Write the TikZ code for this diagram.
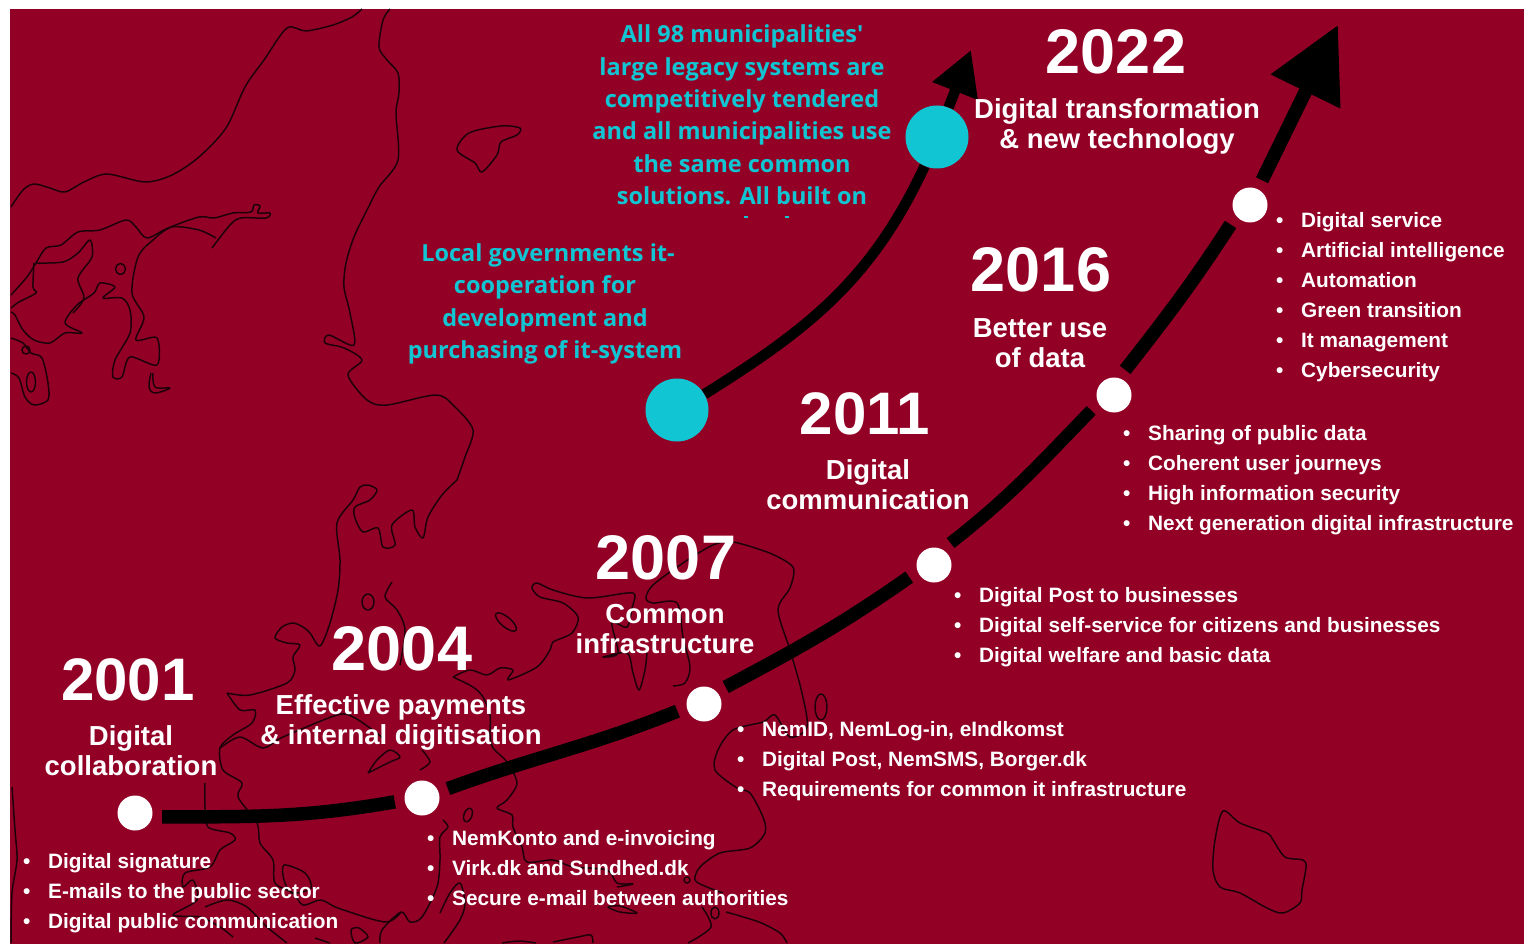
\documentclass[tikz,border=0pt]{standalone}
\usepackage{fontspec}
\setmainfont{Liberation Sans}
\newfontfamily\cyanfont{Open Sans}
\usepackage{xcolor}
\definecolor{MapRed}{RGB}{146,0,38}
\definecolor{MapCyan}{RGB}{18,197,210}
\definecolor{MapShore}{RGB}{30,0,10}
\usetikzlibrary{arrows.meta}
\tikzset{%
  coast/.style={line width=1.5pt, color=MapShore, line join=round},
  dotnode/.style={circle, fill=white, minimum size=35pt, inner sep=0pt, outer sep=10pt},
  localdot/.style={circle, fill=MapCyan, minimum size=63pt, inner sep=0pt},
  mainline/.style={line width=13.5pt, color=black},
  localline/.style={line width=10.5pt, color=black},
  yearlabel/.style={text=white, font=\bfseries\fontsize{#1}{63}\selectfont},
  topiclabel/.style={text=white, align=center, font=\bfseries\fontsize{27.5}{30}\selectfont},
  itemlist/.style={text=white, align=left, anchor=west, inner sep=0pt, font=\bfseries\fontsize{20.8}{30}\selectfont},
  cyanlabel/.style={text=MapCyan, align=center, font=\cyanfont\bfseries\fontsize{23.5}{32.4}\selectfont}
}
\newcommand{\Bul}[1]{\makebox[25pt][l]{\textbullet}#1}

\begin{document}
\begin{tikzpicture}[x=1pt,y=-1pt]
  \useasboundingbox (0,0) rectangle (1524,944);
  \fill[white] (0,0) rectangle (1524,944);
  \fill[MapRed] (10,9) rectangle (1524,944);
  % Coast, north:
  \draw[coast] plot[smooth,tension=.5] coordinates {(11,207) (23,190) (34,184) (50,188) (65,192) (84,182) (107,174) (145,182) (172,175) (199,157) (226,128) (245,87) (264,60) (287,28) (306,31) (333,25) (352,17) (362,9)};
  \draw[coast] plot[smooth,tension=.5] coordinates {(390,9) (383,20) (379,47) (387,60) (398,73) (399,93) (396,113) (398,160) (379,187) (367,210) (354,237) (346,263) (344,287) (350,313) (354,345) (329,335) (325,343) (344,348) (362,360) (348,375) (367,400) (387,405) (436,395) (455,407) (473,430) (465,457) (457,480)};
  \draw[coast] plot[smooth cycle,tension=.5] coordinates {(457,150) (469,133) (501,126) (520,128) (517,135) (501,142) (497,155) (482,172) (475,163)};
  \draw[coast] plot[smooth,tension=.5] coordinates {(11,295) (27,277) (36,263) (46,248) (61,245) (78,232) (100,230) (126,220) (136,227) (147,238) (168,228) (199,217) (214,218) (233,213) (251,212) (254,205) (260,206) (258,213) (270,213) (266,218) (241,218) (230,225) (212,248)};
  \draw[coast] plot[smooth,tension=.5] coordinates {(216,238) (199,230) (172,227) (153,240) (138,257) (132,293) (144,317) (136,340) (157,338) (157,365) (130,357) (122,377) (113,377) (115,360) (130,333) (130,310) (122,298) (103,298) (115,287) (100,283) (94,293) (77,305) (65,323) (82,333) (65,333) (50,343) (34,340) (23,330) (15,315) (11,312)};
  \draw[coast] plot[smooth,tension=.5] coordinates {(36,263) (63,262) (78,253) (90,240) (92,257) (78,278) (84,298) (73,313)};
  \draw[coast] plot[smooth,tension=.5] coordinates {(34,263) (33,287) (36,293) (19,302) (11,308)};
  \draw[coast] plot[smooth,tension=.5] coordinates {(11,338) (23,343) (31,353) (42,358) (48,383) (48,400) (34,405) (25,397) (19,378) (11,373)};
  \draw[coast] plot[smooth,tension=.6] coordinates {(151,373) (149,387) (155,393) (170,388) (155,387) (153,373)};
  \draw[coast] (120.5,269) circle[x radius=5,y radius=5.5];
  \draw[coast] (31,382) circle[x radius=4.5,y radius=10];
  \draw[coast] (26,350) circle[radius=4];
  % Coast, south:
  \draw[coast] plot[smooth,tension=.5] coordinates {(227,693) (240,710) (255,710) (252,723) (233,735) (220,748) (223,770) (242,783) (238,797) (257,823) (260,843) (273,860) (275,883) (293,893) (303,905) (321,900) (338,908) (385,922) (401,912)};
  \draw[coast] plot[smooth,tension=.5] coordinates {(227,693) (250,695) (287,683) (295,670) (293,657) (300,645) (287,643) (275,638) (282,627) (293,623) (303,627) (310,633) (320,646) (330,623) (338,590) (340,560) (337,523) (353,500) (360,487) (368,485) (377,490) (370,500) (355,507) (355,518) (363,532) (378,528) (383,547) (395,545) (392,525) (412,510) (415,527) (423,538) (428,517) (442,495) (457,480)};
  \draw[coast] plot[smooth,tension=.5] coordinates {(220,748) (240,737) (263,748) (283,737) (337,715) (353,717) (370,728) (383,738)};
  \draw[coast] plot[smooth,tension=.5] coordinates {(368,773) (377,760) (390,750) (400,757) (390,762) (368,773)};
  \draw[coast] plot[smooth,tension=.5] coordinates {(422,750) (430,762) (420,770)};
  \draw[coast] plot[smooth,tension=.5] coordinates {(392,582) (385,597) (397,610) (405,630) (400,665)};
  \draw[coast] (368,602) circle[x radius=6,y radius=8];
  \draw[coast,rotate around={-40:(506,622)}] (506,622) circle[x radius=13,y radius=5];
  \draw[coast] plot[smooth,tension=.5] coordinates {(453,677) (470,670) (487,675) (500,668) (513,670) (508,680) (537,667) (550,650) (553,642) (572,633) (578,617) (563,603) (540,597) (532,588) (537,583) (553,590) (587,598) (627,593) (635,595) (632,608) (627,627) (612,623) (618,653) (603,657) (627,653) (633,673) (639,690) (645,670) (647,653)};
  \draw[coast] plot[smooth,tension=.5] coordinates {(453,677) (473,687) (483,697) (490,715) (490,735) (493,748) (507,762) (517,783) (507,800) (497,808) (512,815) (513,827) (522,847) (527,862) (553,860) (573,867) (607,870) (617,883) (633,884) (617,887)};
  \draw[coast] plot[smooth,tension=.5] coordinates {(673,686) (685,683) (690,667) (683,637) (677,603) (653,603) (646,598) (653,585) (683,563) (713,545) (733,542) (767,552) (787,562) (794,570) (790,588) (778,610) (790,650) (802,693) (807,727) (790,737) (775,715) (763,722) (733,730) (718,750) (715,770) (737,788) (750,793) (763,817) (765,833) (750,848) (720,853) (700,867) (695,880) (707,887) (723,893)};
  \draw[coast] (821,707) circle[x radius=6,y radius=13];
  \draw[coast] (687,880) circle[radius=3];
  \draw[coast,rotate around={-20:(468,815)}] (468,815) circle[x radius=4,y radius=7];
  \draw[coast] plot[smooth,tension=.5] coordinates {(443,820) (448,827) (440,837) (440,860) (437,887) (422,917) (410,922) (401,912) (382,930) (380,943)};
  \draw[coast] plot[smooth,tension=.5] coordinates {(440,913) (450,893) (460,883) (465,903) (460,920) (444,943)};
  \draw[coast] plot[smooth cycle,tension=.5] coordinates {(608,907) (620,906) (637,913) (620,912)};
  \draw[coast] plot[smooth,tension=.5] coordinates {(702,907) (711,927) (688,943)};
  \draw[coast] (715,913) circle[x radius=4,y radius=6];
  \draw[coast] plot[smooth,tension=.5] coordinates {(726,912) (759,922) (780,933) (787,943)};
  \draw[coast] plot[smooth,tension=.5] coordinates {(502,943) (519,941) (536,943)};
  \draw[coast] plot[smooth,tension=.5] coordinates {(553,942) (578,937) (591,935) (593,943)};
  \draw[coast] plot[smooth,tension=.5] coordinates {(205,783) (205,807) (208,827) (230,833) (235,840) (220,850) (210,867) (185,873) (183,887) (193,880) (197,900) (173,915) (200,917) (220,927) (233,937)};
  \draw[coast] plot[smooth,tension=.5] coordinates {(205,907) (227,900) (247,907) (267,927) (287,943)};
  \draw[coast] plot[smooth cycle,tension=.5] coordinates {(284,865) (305,873) (311,888) (292,893) (284,880)};
  \draw[coast] plot[smooth cycle,tension=.5] coordinates {(351,930) (359,928) (368,937) (355,943)};
  \draw[coast] plot[smooth,tension=.5] coordinates {(315,938) (330,943)};
  \draw[coast] plot[smooth,tension=.5] coordinates {(12,787) (15,830) (17,860) (12,893) (11,943)};
  \draw[coast] plot[smooth cycle,tension=.5] coordinates {(1223,811) (1215,840) (1213,870) (1220,887) (1240,893) (1267,908) (1283,913) (1300,903) (1302,890) (1306,867) (1303,860) (1285,857) (1273,840) (1267,833) (1240,823)};
  % Main line:
  \foreach \name/\x/\y in {d2001/135/813, d2004/422/798, d2007/704/704, d2011/934/565, d2016/1114/395, d2022/1250/205} {
    \node[dotnode] (\name) at (\x,\y) {};
  }
  \coordinate (maintip) at (1338,25);
  \draw[mainline] (d2001.-8) to[out=0,in=190] (d2004.188);
  \draw[mainline] (d2004.20) to[out=20,in=202] (d2007.195);
  \draw[mainline] (d2007.38) to[out=28,in=215] (d2011.206);
  \draw[mainline,line width=12.5pt] (d2011.53) to[out=38,in=226] (d2016.214);
  \draw[mainline] (d2016.66) to[out=52,in=237] (d2022.225);
  \draw[mainline,-{Triangle[length=74pt,width=74pt]}] (d2022.64) -- (maintip);
  % Local government line:
  \node[localdot] (cstart) at (677,410) {};
  \node[localdot] (cmid) at (937,137) {};
  \coordinate (localtip) at (971,50);
  \draw[localline] (cstart.30) to[out=32,in=-115] (cmid.-113);
  \draw[localline,-{Triangle[length=44pt,width=46pt]}] (cmid) -- (localtip);
  % Years:
  \foreach \year/\x/\y/\size in {2001/128/680/60, 2004/402/649/63, 2007/666/558/63, 2011/865/414/60, 2016/1041/270/63, 2022/1116/52/63} {
    \node[yearlabel=\size] (y\year) at (\x,\y) {\year};
  }
  \node[topiclabel] (t2001) at (131,751) {Digital\\collaboration};
  \node[topiclabel] (t2004) at (401,722) {Effective payments\\\& internal digitisation};
  \node[topiclabel] (t2007) at (665,629) {Common\\infrastructure};
  \node[topiclabel] (t2011) at (868,485) {Digital\\communication};
  \node[topiclabel] (t2016) at (1040,343) {Better use\\of data};
  \node[topiclabel] (t2022) at (1117,126) {Digital transformation\\\& new technology};
  % Lists:
  \node[itemlist] (l2001) at (23,893) {\Bul{Digital signature}\\\Bul{E-mails to the public sector}\\\Bul{Digital public communication}};
  \node[itemlist] (l2004) at (427,868) {\Bul{NemKonto and e-invoicing}\\\Bul{Virk.dk and Sundhed.dk}\\\Bul{Secure e-mail between authorities}};
  \node[itemlist] (l2007) at (737,761) {\Bul{NemID, NemLog-in, eIndkomst}\\\Bul{Digital Post, NemSMS, Borger.dk}\\\Bul{Requirements for common it infrastructure}};
  \node[itemlist] (l2011) at (954,627) {\Bul{Digital Post to businesses}\\\Bul{Digital self-service for citizens and businesses}\\\Bul{Digital welfare and basic data}};
  \node[itemlist] (l2016) at (1123,480) {\Bul{Sharing of public data}\\\Bul{Coherent user journeys}\\\Bul{High information security}\\\Bul{Next generation digital infrastructure}};
  \node[itemlist] (l2022) at (1276,297) {\Bul{Digital service}\\\Bul{Artificial intelligence}\\\Bul{Automation}\\\Bul{Green transition}\\\Bul{It management}\\\Bul{Cybersecurity}};
  % Cyan texts:
  \node[cyanlabel] (ctop) at (742,115) {All 98 municipalities'\\large legacy systems are\\competitively tendered\\and all municipalities use\\the same common\\solutions. All built on};
  \node[cyanlabel] (clow) at (545,304) {\hspace*{6pt}Local governments it-\\cooperation for\\development and\\purchasing of it-system};
  \fill[MapCyan] (744,216) rectangle (748,218);
  \fill[MapCyan] (785,216) rectangle (789,218);
\end{tikzpicture}
\end{document}
